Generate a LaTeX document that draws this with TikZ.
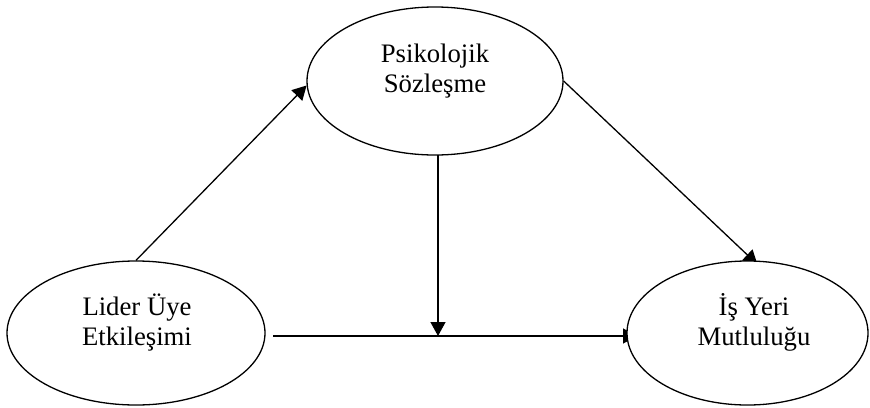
\documentclass[tikz,border=0pt]{standalone}
\usepackage{fontspec}
\setmainfont{Liberation Serif}
\usetikzlibrary{arrows.meta,calc,shapes.geometric}
\begin{document}
\begin{tikzpicture}[x=1pt,y=1pt,
  ell/.style={ellipse,draw,line width=1.3pt,fill=white,inner sep=0pt},
  lbl/.style={anchor=base,inner sep=0pt,font=\fontsize{26.7}{30}\selectfont},
  arr/.style={line width=1.3pt,-{Triangle[length=14pt,width=15pt]}},
  ]
\useasboundingbox (0,0) rectangle (870,-407);
\path (435,-81) coordinate (Tc) (136,-333) coordinate (Lc) (747.5,-333) coordinate (Rc);
\node[ell,minimum width=256pt,minimum height=148pt] (T) at (Tc) {};
\node[ell,minimum width=258pt,minimum height=144pt] (L) at (Lc) {};
% connectors
\coordinate (h0) at (273,-336);
\coordinate (hE) at (637,-336);
\coordinate (m) at (438,-336);
\coordinate (v0) at (438,-155);
\coordinate (rN) at (753.8,-261);
\draw[arr] (L.north) -- (T.182);
\draw[arr] (h0) -- (hE);
\draw[arr,shorten >=-5pt] (T.east) -- (rN);
\draw[arr] (v0) -- (m);
\node[ell,minimum width=241pt,minimum height=144pt] (R) at (Rc) {};
% labels
\node[lbl] (t1) at (435,-62) {Psikolojik};
\node[lbl] (t2) at (435,-92) {Sözleşme};
\node[lbl] (l1) at (137,-315) {Lider Üye};
\node[lbl] (l2) at (137,-345) {Etkileşimi};
\node[lbl] (r1) at (754,-315) {İş Yeri};
\node[lbl] (r2) at (754,-345) {Mutluluğu};
\end{tikzpicture}
\end{document}
